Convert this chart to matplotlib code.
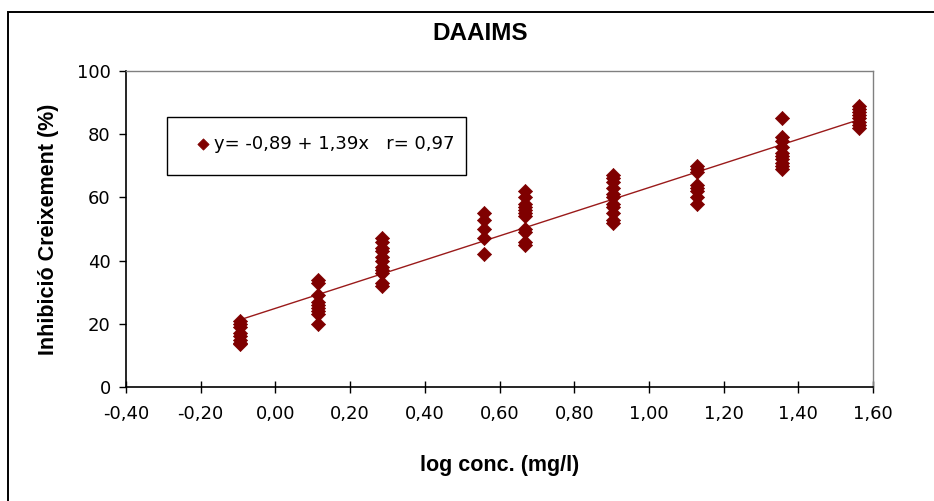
import numpy as np
import matplotlib.pyplot as plt
from matplotlib.patches import Rectangle
from matplotlib.ticker import FuncFormatter, MultipleLocator

plt.rcParams['font.family'] = ['DejaVu Sans']

# log concentració de cada grup i inhibició mesurada (%)
log_conc = [-0.095, 0.114, 0.285, 0.559, 0.668, 0.904, 1.129, 1.356, 1.562]
inhibicio = [
    [21, 20, 19, 17, 16, 15, 14, 13.5],
    [34, 33, 29, 27, 26, 25, 24, 23, 20],
    [47, 46, 44, 43, 41, 40, 38, 37, 36, 33, 32],
    [55, 53, 50, 47, 42],
    [62, 60, 58, 57, 56, 55, 54, 50, 49, 46, 45],
    [67, 66, 65, 63, 61, 60, 58, 57, 55, 53, 52],
    [70, 69, 68, 64, 63, 62, 60, 58],
    [85, 79, 78, 76, 74, 73, 72, 71, 70, 69],
    [89, 88, 87, 86, 85, 84, 83, 82],
]
etiqueta = 'y= -0,89 + 1,39x   r= 0,97'

xs = np.concatenate([[x] * len(v) for x, v in zip(log_conc, inhibicio)])
ys = np.concatenate(inhibicio)

W, H = 934, 501
fig = plt.figure(figsize=(W / 100, H / 100), dpi=100)
ax = fig.add_axes([126 / W, 1 - 387 / H, (873 - 126) / W, (387 - 71) / H])

# marc exterior del gràfic
fig.patches.append(Rectangle((8 / W, -0.1), 1.2, 1.1 - 12 / H, transform=fig.transFigure,
                             fill=False, edgecolor='black', linewidth=1.4))

vermell = '#7f0000'
ax.scatter(xs, ys, marker='D', s=52, color=vermell, edgecolors=vermell,
           linewidths=0.5, zorder=3, label=etiqueta)

# recta de regressió
b, a = np.polyfit(xs, ys, 1)
xl = np.array([min(log_conc), max(log_conc)])
ax.plot(xl, a + b * xl, color='#9a1a1a', linewidth=1, zorder=2)

ax.set_xlim(-0.4, 1.6)
ax.set_ylim(0, 100)
ax.xaxis.set_major_locator(MultipleLocator(0.2))
ax.yaxis.set_major_locator(MultipleLocator(20))
ax.xaxis.set_major_formatter(FuncFormatter(lambda v, p: f'{v:.2f}'.replace('.', ',').replace('-0,00', '0,00')))
ax.tick_params(axis='x', direction='inout', length=8, width=1, labelsize=13, pad=9)
ax.tick_params(axis='y', direction='out', length=5, width=1, labelsize=13, pad=6)

for s in ['top', 'right']:
    ax.spines[s].set_color('#808080')
    ax.spines[s].set_linewidth(1)
for s in ['left', 'bottom']:
    ax.spines[s].set_linewidth(1.2)

negreta = ['Liberation Sans', 'DejaVu Sans']
fig.text(480 / W, 1 - 33 / H, 'DAAIMS', ha='center', va='center',
         fontsize=17.5, fontweight='bold', family=negreta)
ax.set_xlabel('log conc. (mg/l)', fontsize=15.5, fontweight='bold', family=negreta, labelpad=23)
ax.set_ylabel('Inhibició Creixement (%)', fontsize=15.5, fontweight='bold', family=negreta, labelpad=13)

# llegenda amb requadre
fig.patches.append(Rectangle((167 / W, 1 - 175 / H), (466 - 167) / W, 58 / H,
                             transform=fig.transFigure, fill=False,
                             edgecolor='black', linewidth=1, zorder=5))
leg = ax.legend(loc='center left', bbox_to_anchor=(183 / W, 1 - 144 / H),
                bbox_transform=fig.transFigure, frameon=False, fontsize=13,
                handletextpad=0.0, markerscale=0.8, borderpad=0, handlelength=1.2)

fig.savefig('out.png', dpi=100)
